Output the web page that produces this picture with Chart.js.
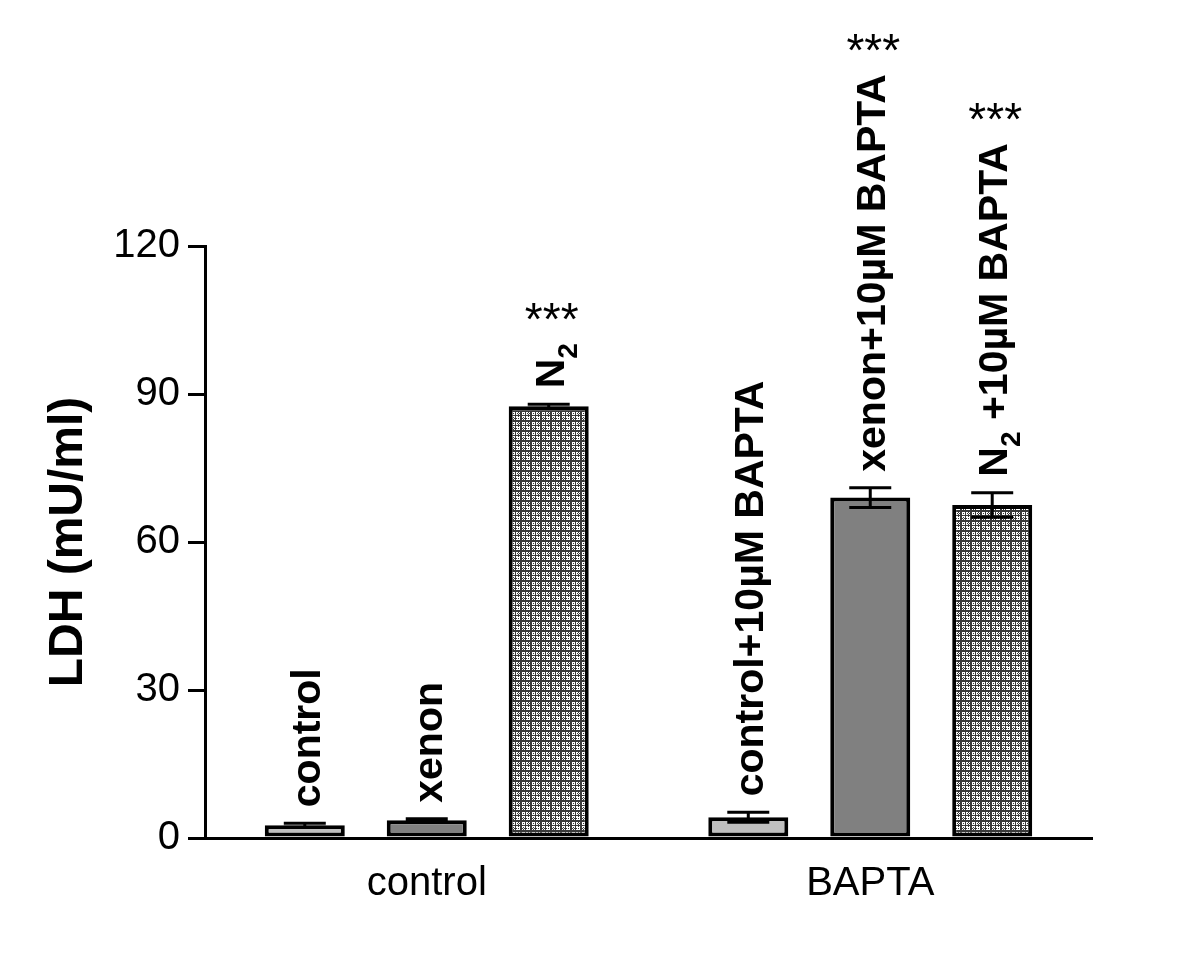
<!DOCTYPE html>
<html><head><meta charset="utf-8">
<script src="https://cdn.jsdelivr.net/npm/chart.js@4.4.0/dist/chart.umd.min.js"></script>
<style>html,body{margin:0;padding:0;background:#fff}#wrap{width:1200px;height:974px;position:relative}</style>
</head><body><div id="wrap"><canvas id="c" width="1200" height="974"></canvas></div>
<script>
const categories = ['control', 'BAPTA'];
const seriesNames = ['control', 'xenon', 'N2'];
const controlValues = [2.6, 4.2];
const controlErrors = [0.4, 1.0];
const xenonValues = [3.6, 69.0];
const xenonErrors = [0.3, 2.0];
const n2Values = [87.5, 67.5];
const n2Errors = [0.4, 2.5];
const controlBarLabels = ['control', 'control+10µM BAPTA'];
const xenonBarLabels = ['xenon', 'xenon+10µM BAPTA'];
const n2BarLabels = ['N{2}', 'N{2} +10µM BAPTA'];
const controlStars = ['', ''];
const xenonStars = ['', '***'];
const n2Stars = ['***', '***'];
const yTicks = [0, 30, 60, 90, 120];
const yTitle = 'LDH (mU/ml)';

const FONT = "'Liberation Sans', Arial, sans-serif";
Chart.defaults.font.family = FONT;
Chart.defaults.color = '#000';

function makePattern() {
  const t = document.createElement('canvas');
  t.width = 10; t.height = 10;
  const g = t.getContext('2d');
  g.fillStyle = '#ffffff'; g.fillRect(0, 0, 10, 10);
  g.fillStyle = '#3a3a3a';
  const L = [1, 1, 0, 0, 0, 1, 0, 0, 0, 0];
  for (let x = 0; x < 10; x++) for (let y = 0; y < 10; y++) {
    const onLine = L[x] || L[y];
    const dot = (x === 3 || x === 8 || y === 3 || y === 8) && (x + y) % 2 === 0;
    if (onLine || dot) g.fillRect(x, y, 1, 1);
  }
  return document.getElementById('c').getContext('2d').createPattern(t, 'repeat');
}

function parseLabel(s) {
  const out = [];
  const re = /\{([^}]*)\}/g;
  let last = 0, m;
  while ((m = re.exec(s))) {
    if (m.index > last) out.push({ t: s.slice(last, m.index), sub: false });
    out.push({ t: m[1], sub: true });
    last = re.lastIndex;
  }
  if (last < s.length) out.push({ t: s.slice(last), sub: false });
  return out;
}

const annotPlugin = {
  id: 'annot',
  afterDatasetsDraw(chart) {
    const ctx = chart.ctx, ys = chart.scales.y;
    chart.data.datasets.forEach((ds, i) => {
      const meta = chart.getDatasetMeta(i);
      meta.data.forEach((bar, j) => {
        const v = ds.data[j], e = ds.errors[j];
        const yt = ys.getPixelForValue(v + e), yb = ys.getPixelForValue(v - e);
        const x = bar.x;
        ctx.save();
        ctx.strokeStyle = '#000'; ctx.lineWidth = 3;
        ctx.beginPath();
        ctx.moveTo(x, yt); ctx.lineTo(x, yb);
        ctx.moveTo(x - 21, yt); ctx.lineTo(x + 21, yt);
        ctx.moveTo(x - 21, yb); ctx.lineTo(x + 21, yb);
        ctx.stroke();
        ctx.restore();

        const start = yt - 16;
        const segs = parseLabel(ds.barLabels[j]);
        ctx.save();
        ctx.fillStyle = '#000';
        ctx.translate(x + 15, start);
        ctx.rotate(-Math.PI / 2);
        ctx.textAlign = 'left'; ctx.textBaseline = 'alphabetic';
        let cx = 0;
        segs.forEach(s => {
          ctx.font = s.sub ? `bold 28px ${FONT}` : `bold 41px ${FONT}`;
          ctx.fillText(s.t, cx, s.sub ? 13 : 0);
          cx += ctx.measureText(s.t).width;
        });
        ctx.restore();

        if (ds.stars[j]) {
          ctx.save();
          ctx.fillStyle = '#000';
          ctx.font = `46px ${FONT}`;
          ctx.textAlign = 'center'; ctx.textBaseline = 'alphabetic';
          ctx.fillText(ds.stars[j], x + 3, start - cx - 8);
          ctx.restore();
        }
      });
    });
  }
};

const common = { borderColor: '#000', borderWidth: 4, borderSkipped: false, categoryPercentage: 0.825, barPercentage: 0.656 };

new Chart(document.getElementById('c'), {
  type: 'bar',
  data: {
    labels: categories,
    datasets: [
      Object.assign({ label: seriesNames[0], data: controlValues, errors: controlErrors, barLabels: controlBarLabels, stars: controlStars, backgroundColor: '#c0c0c0' }, common),
      Object.assign({ label: seriesNames[1], data: xenonValues, errors: xenonErrors, barLabels: xenonBarLabels, stars: xenonStars, backgroundColor: '#808080' }, common),
      Object.assign({ label: seriesNames[2], data: n2Values, errors: n2Errors, barLabels: n2BarLabels, stars: n2Stars, backgroundColor: makePattern() }, common)
    ]
  },
  options: {
    responsive: false, animation: false, devicePixelRatio: 1,
    layout: { padding: { top: 246, right: 108, bottom: 0, left: 0 } },
    plugins: { legend: { display: false }, tooltip: { enabled: false } },
    scales: {
      x: {
        grid: { display: false },
        border: { color: '#000', width: 3 },
        ticks: { font: { size: 40 }, padding: 14, color: '#000' },
        afterFit(s) { s.height = 136; }
      },
      y: {
        min: 0, max: 120,
        afterBuildTicks(s) { s.ticks = yTicks.map(v => ({ value: v })); },
        grid: { drawOnChartArea: false, tickLength: 17, tickWidth: 3, lineWidth: 3, color: '#000' },
        border: { color: '#000', width: 3 },
        ticks: { font: { size: 40 }, padding: 8, color: '#000' },
        title: { display: true, text: yTitle, font: { size: 48, weight: 'bold' }, padding: { top: 40, bottom: 0 }, color: '#000' },
        afterFit(s) { s.width = 205; }
      }
    }
  },
  plugins: [annotPlugin]
});
</script></body></html>
